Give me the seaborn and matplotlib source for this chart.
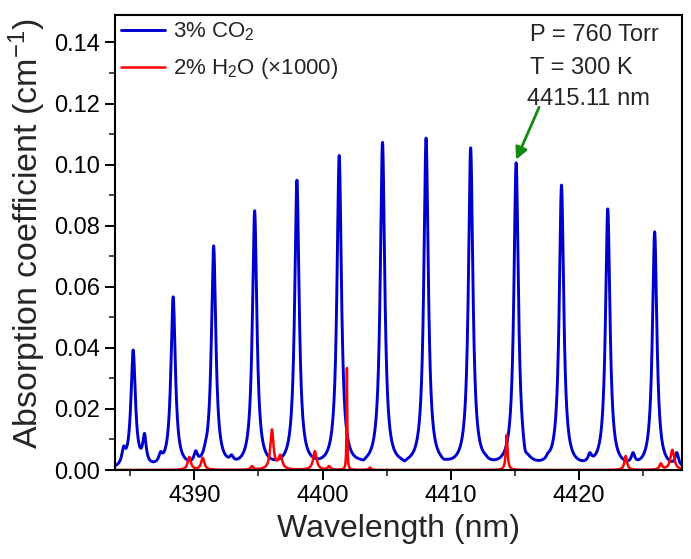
import numpy as np
import pandas as pd
import matplotlib
matplotlib.use("Agg")
import matplotlib.pyplot as plt
import seaborn as sns

# Line centres (nm) and absorption read at each centre (cm^-1)
co2_center = [4385.22, 4388.34, 4391.50, 4394.70, 4398.00, 4401.30, 4404.68,
              4408.08, 4411.56, 4415.11, 4418.65, 4422.26, 4425.92]
co2_peak = [0.0393, 0.0567, 0.0734, 0.0849, 0.0949, 0.1030, 0.1073,
            0.1087, 0.1055, 0.1006, 0.0933, 0.0855, 0.0780]
co2_weak_center = [4384.47, 4386.10, 4387.35, 4390.10, 4390.86, 4392.90, 4403.20,
                   4406.40, 4409.45, 4412.70, 4415.80, 4417.60, 4420.86, 4424.23, 4427.65]
co2_weak_peak = [0.0078, 0.0120, 0.0060, 0.0063, 0.0093, 0.0050, 0.0033,
                 0.0030, 0.0036, 0.0052, 0.0068, 0.0057, 0.0057, 0.0057, 0.0057]
co2_width = 0.21
co2_weak_width = 0.16

h2o_center = [4389.60, 4390.65, 4394.50, 4396.05, 4396.70, 4399.40, 4400.50,
              4401.90, 4403.70, 4414.37, 4423.66, 4426.40, 4427.30]
h2o_peak = [0.0043, 0.0040, 0.0013, 0.0133, 0.0050, 0.0062, 0.0013,
            0.0334, 0.0008, 0.0115, 0.0046, 0.0022, 0.0066]
h2o_width = [0.15, 0.15, 0.12, 0.15, 0.18, 0.16, 0.12,
             0.03, 0.10, 0.08, 0.12, 0.12, 0.18]

marked_line = 4415.11
wl = np.arange(4383.8, 4428.05, 0.004)


def spectrum(x, centers, peaks, widths):
    # Lorentzian lines, amplitudes chosen so the curve hits the read peak values
    c = np.asarray(centers)
    g = np.asarray(widths, dtype=float)
    A = g**2 / ((c[:, None] - c[None, :])**2 + g**2)
    amp = np.linalg.solve(A, np.asarray(peaks))
    return (amp * g**2 / ((x[:, None] - c)**2 + g**2)).sum(axis=1)


co2_c = co2_center + co2_weak_center
co2_p = co2_peak + co2_weak_peak
co2_w = [co2_width] * len(co2_center) + [co2_weak_width] * len(co2_weak_center)

df = pd.DataFrame({
    "wavelength": wl,
    "co2": spectrum(wl, co2_c, co2_p, co2_w),
    "h2o": spectrum(wl, h2o_center, h2o_peak, h2o_width),
})

sns.set_theme(style="ticks")
plt.rcParams["font.family"] = ["Liberation Sans", "DejaVu Sans"]
plt.rcParams["mathtext.fontset"] = "custom"
plt.rcParams["mathtext.rm"] = "Liberation Sans"
plt.rcParams["mathtext.it"] = "Liberation Sans:italic"
plt.rcParams["mathtext.bf"] = "Liberation Sans:bold"

fig = plt.figure(figsize=(6.91, 5.59), dpi=100)
ax = fig.add_axes([0.1664, 0.1592, 0.8205, 0.814])

sns.lineplot(data=df, x="wavelength", y="co2", ax=ax, color="#0000CC", lw=2.1,
             estimator=None, label="3% CO$_2$")
sns.lineplot(data=df, x="wavelength", y="h2o", ax=ax, color="#FF0000", lw=1.8,
             estimator=None, label="2% H$_2$O (×1000)")

ax.set_xlim(4383.8, 4428.05)
ax.set_ylim(0, 0.149)
ax.set_xticks([4390, 4400, 4410, 4420])
ax.set_xticks(np.arange(4385, 4430, 10), minor=True)
ax.set_yticks(np.arange(0, 0.141, 0.02))
ax.set_yticks(np.arange(0.01, 0.141, 0.02), minor=True)
ax.yaxis.set_major_formatter(matplotlib.ticker.FormatStrFormatter("%.2f"))
ax.tick_params(which="major", length=7, width=1.4, labelsize=17, colors="black", pad=4)
ax.tick_params(which="minor", length=4, width=1.2)
for s in ax.spines.values():
    s.set_linewidth(1.5)
    s.set_color("black")

ax.set_xlabel("Wavelength (nm)", fontsize=23, labelpad=5)
ax.set_ylabel("Absorption coefficient (cm$^{-1}$)", fontsize=24.5)
ax.yaxis.set_label_coords(-0.118, 0.52)

ax.legend(loc="upper left", bbox_to_anchor=(0, 1.0), frameon=False, fontsize=16,
          handlelength=2.0, handletextpad=0.35, borderpad=0.25, borderaxespad=0,
          labelspacing=0.6)

ax.text(0.732, 0.957, "P = 760 Torr", transform=ax.transAxes, va="center", fontsize=17)
ax.text(0.732, 0.884, "T = 300 K", transform=ax.transAxes, va="center", fontsize=17)
ax.text(0.727, 0.816, "4415.11 nm", transform=ax.transAxes, va="center", fontsize=17)

peak_y = co2_peak[co2_center.index(marked_line)]
ax.annotate("", xy=(marked_line, peak_y + 0.001), xytext=(0.748, 0.797),
            textcoords="axes fraction",
            arrowprops=dict(arrowstyle="-|>", color="#108a10", lw=2,
                            mutation_scale=18, shrinkA=0, shrinkB=0))

fig.savefig("out.png", dpi=100)
